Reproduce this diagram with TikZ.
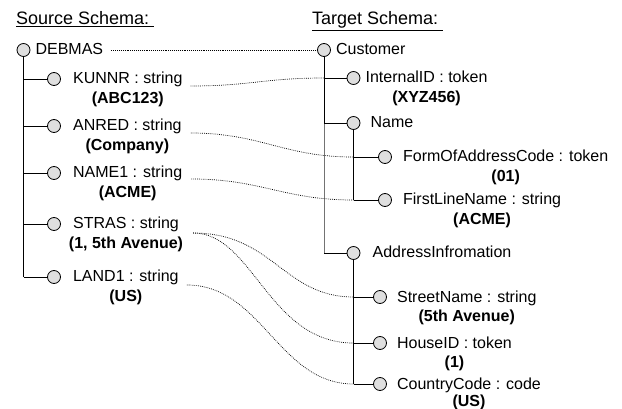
\documentclass[tikz,border=0pt]{standalone}
\usepackage{fontspec}
\setmainfont{Liberation Sans}
\usetikzlibrary{positioning}

\tikzset{
  elem/.style={circle, draw, fill=gray!25, line width=0.8pt, minimum size=13pt, inner sep=0pt},
  elname/.style={inner sep=0pt, text height=13pt, text depth=3pt, font=\fontsize{16}{19}\selectfont},
  elval/.style={elname, font=\fontsize{16}{19}\selectfont\bfseries},
  tree/.style={line width=0.9pt},
  maplink/.style={line width=0.7pt, dash pattern=on 0.8pt off 1.1pt, black},
  title/.style={anchor=base west, inner sep=0pt, font=\fontsize{18}{22}\selectfont}
}

\begin{document}
\begin{tikzpicture}[x=1pt,y=-1pt]
  \useasboundingbox (0,0) rectangle (622,409);

  % Titels
  \node[title] (srctitle) at (16,25) {\underline{Source Schema:~}};
  \node[title] (tgttitle) at (312,25) {\underline{Target Schema:~}};

  % Bron-schema
  \node[elem] (debmas) at (23.5,50) {};
  \node[elname, right=5pt of debmas] (debmasT) {DEBMAS};

  \node[elem] (kunnr) at (54,79) {};
  \node[elname, right=12pt of kunnr] (kunnrT) {KUNNR : string};
  \node[elval, below=3.5pt of kunnrT] (kunnrV) {(ABC123)};

  \node[elem] (anred) at (54,126) {};
  \node[elname, right=12pt of anred] (anredT) {ANRED : string};
  \node[elval, below=3.5pt of anredT] (anredV) {(Company)};

  \node[elem] (name1) at (54,173) {};
  \node[elname, right=12pt of name1] (name1T) {NAME1 : string};
  \node[elval, below=3.5pt of name1T] (name1V) {(ACME)};

  \node[elem] (stras) at (54,224) {};
  \node[elname, right=12pt of stras] (strasT) {STRAS : string};
  \node[elval, below=3.5pt of strasT] (strasV) {(1, 5th Avenue)};

  \node[elem] (land1) at (54,277) {};
  \node[elname, right=12pt of land1] (land1T) {LAND1 : string};
  \node[elval, below=3.5pt of land1T] (land1V) {(US)};

  \draw[tree] (debmas.south) -- (debmas |- land1);
  \foreach \n in {kunnr,anred,name1,stras,land1}
    \draw[tree] (debmas |- \n) -- (\n);

  % Doel-schema
  \node[elem] (customer) at (324,50) {};
  \node[elname, right=5pt of customer] (customerT) {Customer};

  \node[elem] (internal) at (353.5,78) {};
  \node[elname, right=5pt of internal] (internalT) {InternalID : token};
  \node[elval, below=3.5pt of internalT] (internalV) {(XYZ456)};

  \node[elem] (name) at (353.5,123) {};
  \node[elname, right=10pt of name] (nameT) {Name};

  \node[elem] (formaddr) at (385,157) {};
  \node[elname, right=11pt of formaddr] (formaddrT) {FormOfAddressCode : token};
  \node[elval, below=3.5pt of formaddrT] (formaddrV) {(01)};

  \node[elem] (firstline) at (385,200) {};
  \node[elname, right=11pt of firstline] (firstlineT) {FirstLineName : string};
  \node[elval, below=3.5pt of firstlineT] (firstlineV) {(ACME)};

  \node[elem] (address) at (353.5,253) {};
  \node[elname, right=12pt of address] (addressT) {AddressInfromation};

  \node[elem] (street) at (380,297) {};
  \node[elname, right=10pt of street] (streetT) {StreetName : string};
  \node[elval, below=3.5pt of streetT] (streetV) {(5th Avenue)};

  \node[elem] (house) at (380,343) {};
  \node[elname, right=10pt of house] (houseT) {HouseID : token};
  \node[elval, below=3.5pt of houseT] (houseV) {(1)};

  \node[elem] (country) at (380,384) {};
  \node[elname, right=10pt of country] (countryT) {CountryCode : code};
  \node[elval, below=1pt of countryT] (countryV) {(US)};

  \draw[tree] (customer.south) -- (customer |- name);
  \draw[tree, black!55] (customer |- name) -- (customer |- address);
  \foreach \n in {internal,name,address}
    \draw[tree] (customer |- \n) -- (\n);
  \draw[tree] (name.south) -- (name |- firstline);
  \foreach \n in {formaddr,firstline}
    \draw[tree] (name |- \n) -- (\n);
  \draw[tree] (address.south) -- (address |- country);
  \foreach \n in {street,house,country}
    \draw[tree] (address |- \n) -- (\n);

  % Koppelingen bron -> doel
  \draw[maplink] ([xshift=8pt]debmasT.east) -- (customer);
  \draw[maplink] ([shift={(8,7)}]kunnrT.east) .. controls +(60,0) and +(-60,0) .. (customer |- internal);
  \draw[maplink] ([shift={(9,7)}]anredT.east) .. controls +(70,0) and +(-70,0) .. (name |- formaddr);
  \draw[maplink] ([shift={(9,6)}]name1T.east) .. controls +(70,0) and +(-70,0) .. (name |- firstline);
  \draw[maplink] ([shift={(14,9)}]strasT.east) .. controls +(80,0) and +(-70,0) .. (address |- street);
  \draw[maplink] ([shift={(14,9)}]strasT.east) .. controls +(60,0) and +(-85,0) .. (address |- house);
  \draw[maplink] ([shift={(8,8)}]land1T.east) .. controls +(75,0) and +(-75,0) .. (address |- country);
\end{tikzpicture}
\end{document}
